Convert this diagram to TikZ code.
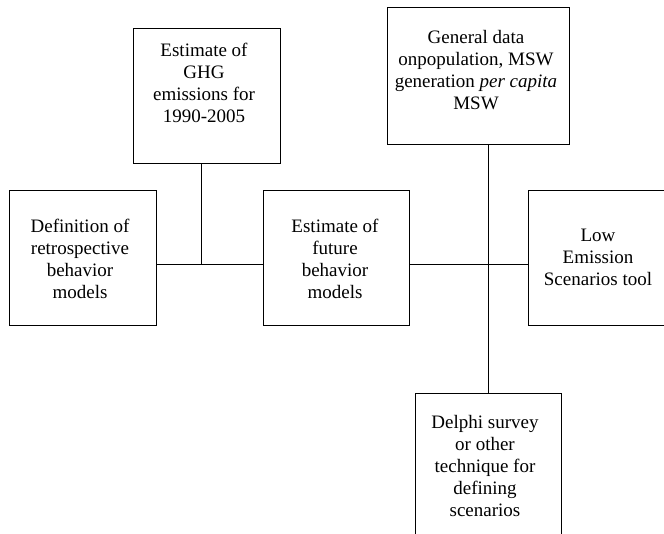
\documentclass[tikz,border=0pt]{standalone}
\usepackage{fontspec}
\setmainfont{Liberation Serif}
\begin{document}
\begin{tikzpicture}[x=1pt,y=1pt,
  box/.style={draw,line width=0.9pt,rectangle,inner sep=0pt,outer sep=0pt,anchor=north west},
  txt/.style={align=center,inner sep=0pt,font=\fontsize{19}{22}\selectfont},
  conn/.style={line width=0.9pt}]
\clip (0,0) rectangle (664,-533);
\useasboundingbox (0,0) rectangle (664,-533);
% boxes
\node[box,minimum width=147pt,minimum height=135pt] (ghg) at (133,-28) {};
\node[box,minimum width=147pt,minimum height=135pt] (def) at (9,-190) {};
\node[box,minimum width=146pt,minimum height=135pt] (fut) at (263,-190) {};
\node[box,minimum width=182pt,minimum height=137pt] (gen) at (387,-7) {};
\node[box,minimum width=142pt,minimum height=135pt] (low) at (528,-190) {};
\node[box,minimum width=146pt,minimum height=150pt] (del) at (415,-393) {};
% texts
\node[txt] (ghgt) at (204,-83) {Estimate of\\GHG\\emissions for\\1990-2005};
\node[txt] (deft) at (80,-259) {Definition of\\retrospective\\behavior\\models};
\node[txt] (futt) at (335,-259) {Estimate of\\future\\behavior\\models};
\node[txt] (gent) at (476,-70) {General data\\onpopulation, MSW\\generation \textit{per capita}\\MSW};
\node[txt] (lowt) at (598,-257) {Low\\Emission\\Scenarios tool};
\node[txt] (delt) at (485,-466) {Delphi survey\\or other\\technique for\\defining\\scenarios};
% connectors
\coordinate (j1) at (201,-264);
\coordinate (j2) at (488,-264);
\draw[conn] (j1 |- ghg.south) -- (j1);
\draw[conn] (def.east |- j1) -- (fut.west |- j1);
\draw[conn] (fut.east |- j2) -- (low.west |- j2);
\draw[conn] (j2 |- gen.south) -- (j2 |- del.north);
\end{tikzpicture}
\end{document}
